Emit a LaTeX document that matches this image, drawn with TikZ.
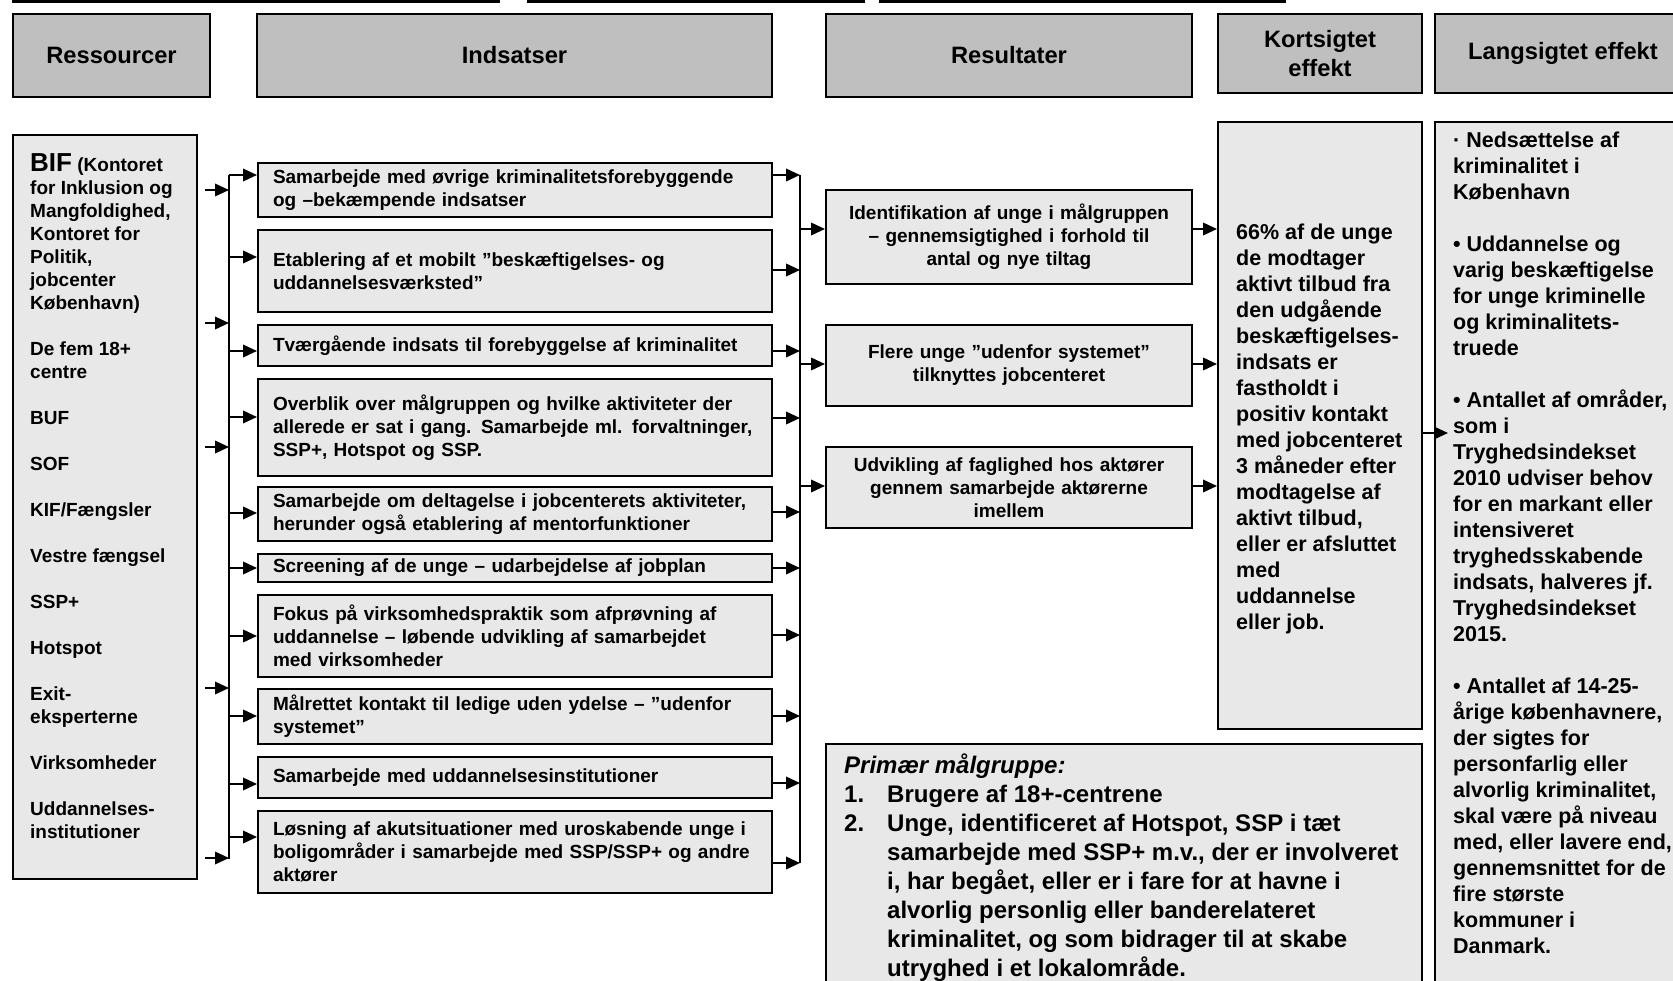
\documentclass[tikz,border=0pt]{standalone}
\usepackage{fontspec}
\setmainfont{Liberation Sans}
\usetikzlibrary{arrows.meta}
\definecolor{headgray}{gray}{0.75}
\definecolor{boxgray}{gray}{0.91}

\begin{document}
\begin{tikzpicture}[x=1pt, y=-1pt, >={Triangle[length=14pt,width=12.5pt]},
    frame/.style={draw=black, line width=2pt},
    headbox/.style={frame, fill=headgray, anchor=north west, align=center, inner sep=0pt, font=\fontsize{23.7}{29}\selectfont\bfseries},
    plainbox/.style={frame, fill=boxgray, anchor=north west, inner sep=0pt},
    indbox/.style={frame, fill=boxgray, anchor=north west, align=left, text width=484pt, inner xsep=15pt, inner ysep=2pt, font=\fontsize{19}{23}\selectfont\bfseries},
    resbox/.style={frame, fill=boxgray, anchor=north west, align=center, text width=350pt, inner xsep=8pt, inner ysep=2pt, font=\fontsize{19}{23}\selectfont\bfseries},
    flow/.style={line width=2.1pt, ->},
    bus/.style={line width=2.1pt}]

% ---- Page frame ----
            \useasboundingbox (0,0) rectangle (1673,981);
            \clip (0,0) rectangle (1673,981);

% ---- Rules along the top ----
            \foreach \a/\b in {12/500, 527/865, 879/1286} {
                \draw[bus] (\a,1.5) -- (\b,1.5);
            }

% ---- Column heads ----
            \node[headbox, minimum width=197pt, minimum height=83pt] (hress) at (12,13) {Ressourcer};
            \node[headbox, minimum width=515pt, minimum height=83pt] (hinds) at (256,13) {Indsatser};
            \node[headbox, minimum width=366pt, minimum height=83pt] (hresult) at (825,13) {Resultater};
            \node[headbox, minimum width=204pt, minimum height=79pt] (hkort) at (1217,13) {Kortsigtet\\effekt};
            \node[headbox, minimum width=256pt, minimum height=79pt] (hlang) at (1434,13) {Langsigtet effekt};

% ---- Resources ----
            \node[plainbox, minimum width=184pt, minimum height=744pt] (ressbox) at (12,134) {};
            \node[font=\fontsize{19}{23}\selectfont\bfseries, align=left, anchor=north west, inner sep=0pt] (resstext) at (30,153)
                {{\fontsize{26}{26}\selectfont BIF} (Kontoret\\for Inklusion og\\Mangfoldighed,\\Kontoret for\\Politik,\\jobcenter\\København)\\[23pt]De fem 18+\\centre\\[23pt]BUF\\[23pt]SOF\\[23pt]KIF/Fængsler\\[23pt]Vestre fængsel\\[23pt]SSP+\\[23pt]Hotspot\\[23pt]Exit-\\eksperterne\\[23pt]Virksomheder\\[23pt]Uddannelses-\\institutioner};

% ---- Efforts ----
            \node[indbox, minimum height=54pt] (ind1) at (257,162) {Samarbejde med øvrige kriminalitetsforebyggende\\og –bekæmpende indsatser};
            \node[indbox, minimum height=82pt] (ind2) at (257,229) {Etablering af et mobilt ”beskæftigelses- og\\uddannelsesværksted”};
            \node[indbox, minimum height=41pt] (ind3) at (257,324) {Tværgående indsats til forebyggelse af kriminalitet};
            \node[indbox, minimum height=97pt] (ind4) at (257,378) {Overblik over målgruppen og hvilke aktiviteter der\\allerede er sat i gang. Samarbejde ml. forvaltninger,\\SSP+, Hotspot og SSP.};
            \node[indbox, minimum height=54pt] (ind5) at (257,486) {Samarbejde om deltagelse i jobcenterets aktiviteter,\\herunder også etablering af mentorfunktioner};
            \node[indbox, minimum height=28pt] (ind6) at (257,553) {Screening af de unge – udarbejdelse af jobplan};
            \node[indbox, minimum height=82pt] (ind7) at (257,594) {Fokus på virksomhedspraktik som afprøvning af\\uddannelse – løbende udvikling af samarbejdet\\med virksomheder};
            \node[indbox, minimum height=55pt] (ind8) at (257,688) {Målrettet kontakt til ledige uden ydelse – ”udenfor\\systemet”};
            \node[indbox, minimum height=41pt] (ind9) at (257,756) {Samarbejde med uddannelsesinstitutioner};
            \node[indbox, minimum height=82pt] (ind10) at (257,810) {Løsning af akutsituationer med uroskabende unge i\\boligområder i samarbejde med SSP/SSP+ og andre\\aktører};

% ---- Results ----
            \node[resbox, minimum height=94pt] (resu1) at (825,189) {Identifikation af unge i målgruppen\\– gennemsigtighed i forhold til\\antal og nye tiltag};
            \node[resbox, minimum height=81pt] (resu2) at (825,324) {Flere unge ”udenfor systemet”\\tilknyttes jobcenteret};
            \node[resbox, minimum height=81pt] (resu3) at (825,446) {Udvikling af faglighed hos aktører\\gennem samarbejde aktørerne\\imellem};

% ---- Short and long term effect ----
            \node[plainbox, minimum width=204pt, minimum height=607pt] (kort) at (1217,121) {};
            \node[font=\fontsize{21.5}{26}\selectfont\bfseries, align=left, anchor=west, inner sep=0pt] (korttext) at ([xshift=19pt,yshift=-3pt]kort.west)
                {66\% af de unge\\de modtager\\aktivt tilbud fra\\den udgående\\beskæftigelses-\\indsats er\\fastholdt i\\positiv kontakt\\med jobcenteret\\3 måneder efter\\modtagelse af\\aktivt tilbud,\\eller er afsluttet\\med\\uddannelse\\eller job.};

            \node[plainbox, minimum width=256pt, minimum height=900pt] (lang) at (1434,121) {};
            \node[font=\fontsize{21.5}{26}\selectfont\bfseries, align=left, anchor=north west, inner sep=0pt] (langtext) at (1453,132)
                {· Nedsættelse af\\kriminalitet i\\København\\[26pt]• Uddannelse og\\varig beskæftigelse\\for unge kriminelle\\og kriminalitets-\\truede\\[26pt]• Antallet af områder,\\som i\\Tryghedsindekset\\2010 udviser behov\\for en markant eller\\intensiveret\\tryghedsskabende\\indsats, halveres jf.\\Tryghedsindekset\\2015.\\[26pt]• Antallet af 14-25-\\årige københavnere,\\der sigtes for\\personfarlig eller\\alvorlig kriminalitet,\\skal være på niveau\\med, eller lavere end,\\gennemsnittet for de\\fire største\\kommuner i\\Danmark.};

% ---- Target group ----
            \node[plainbox, minimum width=596pt, minimum height=300pt] (maal) at (825,743) {};
            \node[font=\fontsize{24}{29}\selectfont\bfseries, align=left, anchor=north west, inner sep=0pt] (maaltext) at (844,754)
                {\textit{Primær målgruppe:}\\\makebox[43pt][l]{1.}Brugere af 18+-centrene\\\makebox[43pt][l]{2.}Unge, identificeret af Hotspot, SSP i tæt\\\hspace*{43pt}samarbejde med SSP+ m.v., der er involveret\\\hspace*{43pt}i, har begået, eller er i fare for at havne i\\\hspace*{43pt}alvorlig personlig eller banderelateret\\\hspace*{43pt}kriminalitet, og som bidrager til at skabe\\\hspace*{43pt}utryghed i et lokalområde.};

% ---- Bus lines ----
            \coordinate (lsrc) at ([xshift=7pt]ressbox.east);
            \coordinate (lbus) at ([xshift=-28pt]ind1.west);
            \coordinate (rbus) at ([xshift=27pt]ind1.east);
            \coordinate (langin) at (1448,433);

            \draw[bus] (lbus |- 0,175) -- (lbus |- 0,859);
            \draw[bus] (rbus |- 0,175) -- (rbus |- 0,863);

% ---- Arrows ----
            \foreach \y in {190,323,447,688,858} {
                \draw[flow] (lsrc |- 0,\y) -- (lbus |- 0,\y);
            }
            \foreach \i/\yl/\yr in {1/175/175, 2/257/270, 3/351/351, 4/417/418, 5/513/512, 6/568/568, 7/636/635, 8/716/716, 9/784/783, 10/837/863} {
                \draw[flow] (lbus |- 0,\yl) -- (ind\i.west |- 0,\yl);
                \draw[flow] (ind\i.east |- 0,\yr) -- (rbus |- 0,\yr);
            }
            \foreach \j/\y in {1/229, 2/364, 3/486} {
                \draw[flow] (rbus |- 0,\y) -- (resu\j.west |- 0,\y);
                \draw[flow] (resu\j.east |- 0,\y) -- (kort.west |- 0,\y);
            }
            \draw[flow] (kort.east |- 0,433) -- (langin);

\end{tikzpicture}
\end{document}
